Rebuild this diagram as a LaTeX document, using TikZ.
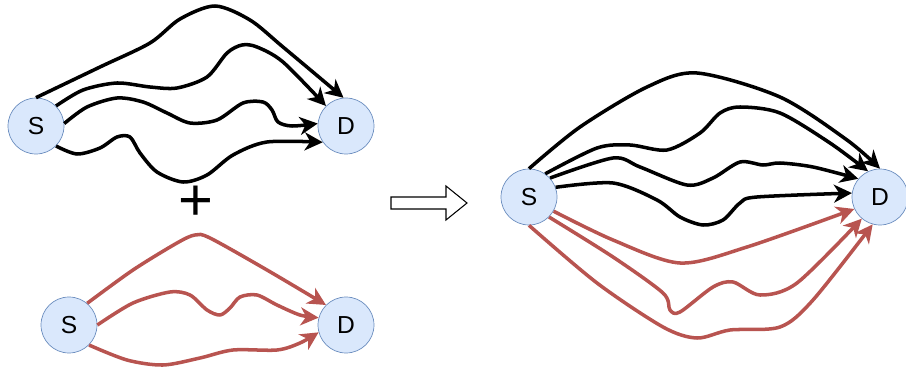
\documentclass[tikz,border=0pt]{standalone}
\usepackage{fontspec}
\setmainfont{Liberation Sans}
\usetikzlibrary{arrows.meta}
\definecolor{nodefill}{HTML}{DAE8FC}
\definecolor{nodeline}{HTML}{6C8EBF}
\definecolor{pathred}{HTML}{B85450}

\begin{document}
\begin{tikzpicture}[
  x=0.02cm, y=0.02cm,
  host/.style={circle, draw=nodeline, fill=nodefill, minimum size=1.12cm, inner sep=0pt, font=\fontsize{14}{16}\selectfont},
  blkpath/.style={-{Stealth[length=3.6mm, width=3.6mm, inset=1.1mm]}, line width=2pt, line join=round},
  redpath/.style={blkpath, draw=pathred},
  hollow/.style={draw, line width=0.6pt, fill=white},
]
\useasboundingbox (0,0) rectangle (906,369);

% Top left: black paths
\node[host] (s1) at (36,243) {S};
\node[host] (d1) at (346,243) {D};

% Bottom left: red paths
\node[host] (s2) at (69,44) {S};
\node[host] (d2) at (346,44) {D};

% Right: merged
\node[host] (s3) at (529,172) {S};
\node[host] (d3) at (880,172) {D};

% Plus and hollow arrow
\node[font=\fontsize{34}{36}\selectfont, inner sep=0pt] (plus) at (196,166) {+};
\draw[hollow] (391,160) -- (446,160) -- (446,149) -- (467,166) -- (446,183) -- (446,172) -- (391,172) -- cycle;

% Black paths, top left
\draw[blkpath] plot[smooth] coordinates {(s1.north) (100,302) (150,326) (180,350) (215,363) (250,349) (283,322) (d1.95)};
\draw[blkpath] plot[smooth] coordinates {(s1.45) (83,279) (117,286) (150,282) (177,281) (207,292) (227,316) (242,324) (257,322) (283,307) (d1.135)};
\draw[blkpath] plot[smooth] coordinates {(s1.5) (87,262) (117,271) (143,267) (167,256) (190,246) (217,249) (243,266) (263,267) (272,259) (278,247) (292,243) (d1.175)};
\draw[blkpath] plot[smooth] coordinates {(s1.-45) (77,215) (100,221) (117,232) (130,232) (140,216) (157,197) (183,187) (207,194) (233,214) (267,227) (d1.215)};

% Red paths, bottom left
\draw[redpath] plot[smooth] coordinates {(s2.50) (133,99) (177,126) (195,134) (210,131) (267,99) (d2.135)};
\draw[redpath] plot[smooth] coordinates {(s2.east) (133,66) (170,77) (190,74) (207,59) (220,54) (230,61) (240,72) (257,74) (277,64) (300,54) (d2.165)};
\draw[redpath] plot[smooth] coordinates {(s2.-45) (127,9) (163,4) (200,11) (233,19) (277,19) (300,26) (d2.195)};

% Black paths, right
\draw[blkpath] plot[smooth] coordinates {(s3.north) (580,242) (647,282) (697,296) (780,272) (847,229) (d3.90)};
\draw[blkpath] plot[smooth] coordinates {(s3.55) (597,221) (630,224) (667,219) (700,236) (720,256) (740,262) (780,256) (830,226) (d3.115)};
\draw[blkpath] plot[smooth] coordinates {(s3.42) (613,211) (640,202) (687,184) (713,191) (740,207) (763,204) (780,206) (813,202) (d3.140)};
\draw[blkpath] plot[smooth] coordinates {(s3.20) (613,186) (657,169) (680,152) (703,144) (723,149) (740,166) (757,172) (d3.172)};

% Red paths, right
\draw[redpath] plot[smooth] coordinates {(s3.-30) (613,129) (680,106) (747,122) (d3.205)};
\draw[redpath] plot[smooth] coordinates {(s3.-45) (613,112) (663,76) (670,59) (680,57) (713,82) (733,87) (760,74) (797,86) (d3.230)};
\draw[redpath] plot[smooth] coordinates {(s3.south) (597,86) (663,42) (697,31) (730,39) (780,42) (813,69) (d3.255)};

\end{tikzpicture}
\end{document}
